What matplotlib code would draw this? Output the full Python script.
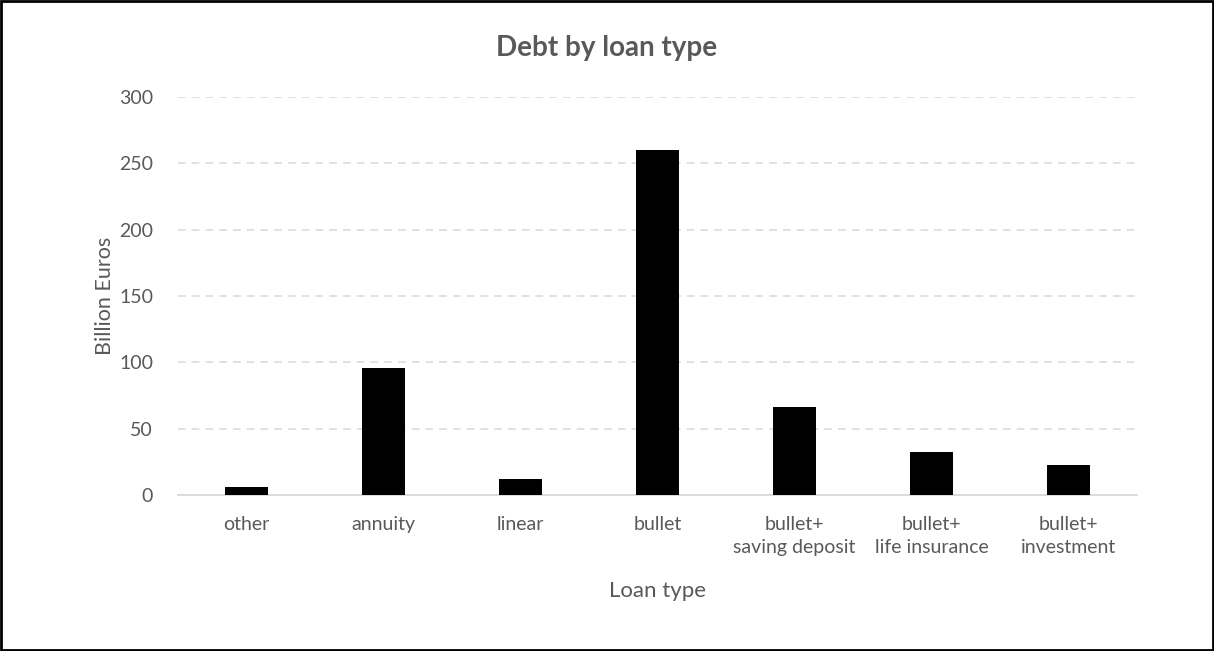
import numpy as np
import matplotlib.pyplot as plt
from matplotlib.patches import Rectangle

# Debt per loan type, billion euros
loan_types = ["other", "annuity", "linear", "bullet",
              "bullet+\nsaving deposit", "bullet+\nlife insurance", "bullet+\ninvestment"]
debt = [6, 96, 12, 260, 66.5, 32.5, 23]
y_ticks = [0, 50, 100, 150, 200, 250, 300]

plt.rcParams['font.family'] = ['Lato', 'DejaVu Sans']
grey = "#595959"

fig = plt.figure(figsize=(12.14, 6.51), dpi=100)
ax = fig.add_axes([0.1466, 0.2396, 0.79, 0.6114])

x = np.arange(len(loan_types))
ax.bar(x, debt, width=0.31, color="black", zorder=3)

ax.set_xlim(-0.5, len(loan_types) - 0.5)
ax.set_ylim(0, 300)
ax.set_yticks(y_ticks)
ax.set_xticks(x)
ax.set_xticklabels(loan_types, fontsize=14, color=grey, linespacing=1.45)
ax.tick_params(axis="y", labelsize=14, labelcolor=grey, length=0, pad=18)
ax.tick_params(axis="x", length=0, pad=15)

ax.grid(axis="y", color="#d9d9d9", linestyle=(0, (5, 4)), linewidth=1.1, zorder=0)
for s in ["top", "right", "left"]:
    ax.spines[s].set_visible(False)
ax.spines["bottom"].set_color("#d9d9d9")
ax.spines["bottom"].set_linewidth(1.3)

ax.set_xlabel("Loan type", fontsize=16, color=grey, labelpad=18)
ax.set_ylabel("Billion Euros", fontsize=15.5, color=grey, labelpad=3)
fig.text(0.5, 0.927, "Debt by loan type", ha="center", va="center",
         fontsize=20, fontweight="bold", color=grey)

# outer frame around the whole chart
fig.patches.append(Rectangle((0.001, 0.002), 0.998, 0.996, transform=fig.transFigure,
                             fill=False, edgecolor="black", linewidth=2))

fig.savefig("out.png", dpi=100)
